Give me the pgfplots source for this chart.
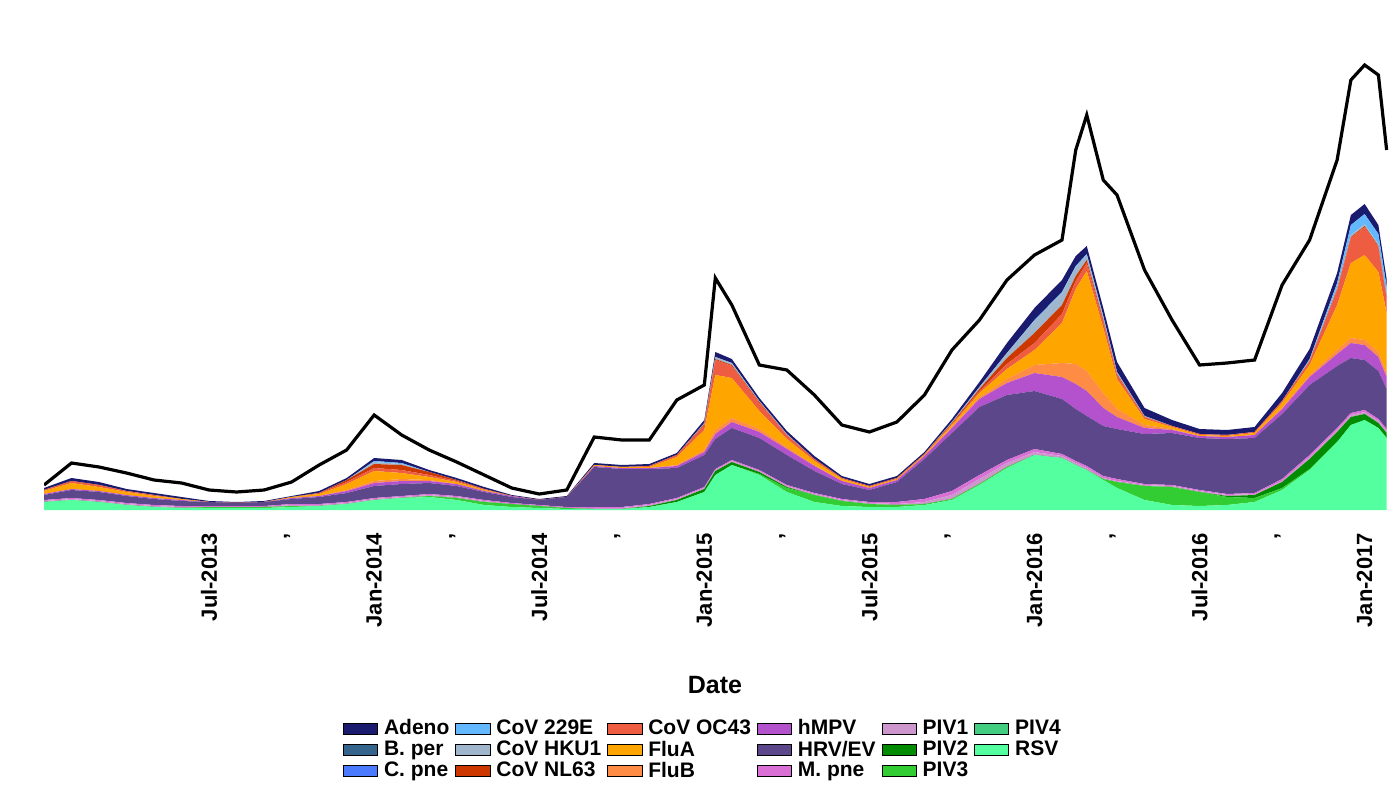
\documentclass[border=0pt]{standalone}
\usepackage{pgfplots}
\usepackage{pgfplotstable}
\pgfplotsset{compat=1.18}
\usepackage{fontspec}
\setmainfont{Liberation Sans}
\definecolor{cAdeno}{HTML}{1A1A6E}
\definecolor{cBper}{HTML}{35648C}
\definecolor{cCpne}{HTML}{4A7BFF}
\definecolor{cE}{HTML}{63B8FF}
\definecolor{cHKU}{HTML}{9FB6CD}
\definecolor{cNL}{HTML}{CD3700}
\definecolor{cOC}{HTML}{EE5C42}
\definecolor{cFluA}{HTML}{FFA500}
\definecolor{cFluB}{HTML}{FF8C45}
\definecolor{chMPV}{HTML}{B452CD}
\definecolor{cHRV}{HTML}{5D478B}
\definecolor{cMpne}{HTML}{DA70D6}
\definecolor{cPIVa}{HTML}{CD96CD}
\definecolor{cPIVb}{HTML}{008B00}
\definecolor{cPIVc}{HTML}{32CD32}
\definecolor{cPIVd}{HTML}{43CD80}
\definecolor{cRSV}{HTML}{54FF9F}
\pgfplotstableread{
x RSV PIVc PIVb PIVa Mpne HRV hMPV FluB FluA OC NL HKU E Adeno Tot
0 8 0 0 1 1 5 1 0 3 1 0 0 0 2 25
1 10 0 0 1 1 8 1 0 6 2 0 0 0 3 47
2 8 0 0 1 1 8 1 0 4 2 0 0 0 3 43
3 5 0 0 1 1 7 1 0 3 1 0 0 0 2 37
4 3 0 0 1 1 6 1 0 2 1 0 0 0 2 30
5 2 0 0 1 1 5 1 0 1 0 0 0 0 2 27
6 2 1 0 0 1 4 0 0 0 0 0 0 0 1 20
7 2 1 0 0 1 3 0 0 0 0 0 0 0 1 18
8 2 1 0 0 1 4 0 0 0 0 0 0 0 1 20
9 3 1 0 1 1 5 1 0 1 0 0 0 0 1 28
10 4 0 0 1 1 7 1 0 2 1 0 0 0 2 45
11 6 0 0 1 1 9 2 1 6 2 2 0 0 2 60
12 10 0 0 1 1 12 3 2 10 3 4 2 1 3 95
13 12 0 0 1 1 12 3 2 6 3 5 1 1 3 75
14 13 1 0 1 1 11 2 1 3 2 3 0 0 2 60
15 10 2 0 1 1 10 2 0 2 1 1 0 0 2 48
16 5 3 0 1 1 8 1 0 1 1 0 0 0 2 35
17 3 3 0 0 1 6 1 0 0 0 0 0 0 1 22
18 2 2 0 0 1 5 0 0 0 0 0 0 0 1 16
19 1 1 0 0 1 10 0 0 0 0 0 0 0 1 20
20 1 0 0 1 1 40 1 0 1 0 0 0 0 2 73
21 1 0 0 1 1 38 1 0 1 0 0 0 0 2 70
22 3 0 1 1 1 35 1 0 1 1 0 0 0 2 70
23 8 0 2 1 1 30 2 1 8 2 0 0 0 2 110
24 18 0 3 1 1 32 3 2 20 5 1 1 0 3 125
24.4 35 0 4 1 1 30 5 4 55 15 1 2 0 5 232
25 45 0 3 1 1 32 6 4 40 12 1 2 0 4 205
26 35 1 2 1 1 32 6 3 18 8 1 1 0 3 145
27 18 4 1 1 1 30 6 2 8 4 0 1 0 3 140
28 8 7 0 1 1 22 5 1 4 2 0 0 0 3 115
29 4 5 0 1 1 15 3 0 2 1 0 0 0 2 85
30 3 3 0 1 1 12 2 0 1 1 0 0 0 2 78
31 3 2 0 1 2 20 2 0 1 1 0 0 0 2 88
32 5 1 0 2 3 40 3 0 1 1 0 0 0 2 115
33 10 1 0 4 4 58 5 1 2 1 1 1 0 3 160
34 25 1 0 5 4 68 8 2 4 2 2 2 0 5 190
35 42 1 0 4 3 65 12 4 10 5 6 5 0 10 230
36 55 0 0 3 3 58 18 8 15 7 10 12 1 12 255
37 52 0 0 2 2 55 22 14 40 9 9 12 1 12 270
37.5 45 0 0 2 2 52 25 20 75 8 5 9 1 10 360
37.9 40 0 0 2 2 50 25 20 100 8 3 5 1 8 395
38.5 30 1 0 1 2 50 18 15 65 6 2 3 1 8 330
39 22 6 0 1 2 50 12 8 30 4 1 2 0 10 315
40 10 14 0 1 1 50 6 3 6 2 0 1 0 8 240
41 5 18 0 1 1 52 3 1 2 1 0 0 0 6 190
42 4 14 0 1 1 52 2 0 1 1 0 0 0 5 145
43 5 8 1 1 1 55 2 0 1 1 0 0 0 5 147
44 8 4 3 1 1 55 3 0 2 1 0 0 0 5 150
45 20 2 6 1 2 65 5 1 5 2 0 0 0 8 225
46 40 1 10 2 2 70 8 2 10 4 0 1 1 10 270
47 68 0 10 2 2 62 12 4 45 15 1 2 4 10 350
47.5 85 0 8 2 2 55 15 5 75 25 1 2 10 10 430
48 90 0 6 2 2 50 15 5 85 28 1 2 10 10 445
48.5 82 0 5 2 2 48 14 5 80 25 1 2 10 9 435
48.8 72 0 5 2 2 40 12 4 60 15 1 2 8 8 360
}\data
\begin{document}
\begin{tikzpicture}
\useasboundingbox (0,0) rectangle (700pt,400pt);
\begin{axis}[at={(22pt,145pt)}, anchor=south west, scale only axis,
  width=672pt, height=225pt, xmin=0, xmax=48.85, ymin=0, ymax=450,
  stack plots=y, axis line style={draw=none}, major tick length=0pt,
  ytick=\empty,
  xtick={6,9,...,48},
  xticklabels={Jul-2013,{'},Jan-2014,{'},Jul-2014,{'},Jan-2015,{'},Jul-2015,{'},Jan-2016,{'},Jul-2016,{'},Jan-2017},
  xticklabel style={rotate=90, anchor=east, font=\fontsize{11}{13}\selectfont\bfseries},
  xticklabel shift=8pt,
  legend columns=6,
  legend style={at={(0.491,-0.456)}, anchor=north, draw=none, font=\fontsize{10.5}{11}\selectfont\bfseries, row sep=-2.5pt, column sep=1pt, inner sep=0pt},
  legend cell align=left,
  area legend,
]
\pgfplotsinvokeforeach{RSV/cRSV,PIVc/cPIVc,PIVb/cPIVb,PIVa/cPIVa,Mpne/cMpne,HRV/cHRV,hMPV/chMPV,FluB/cFluB,FluA/cFluA,OC/cOC,NL/cNL,HKU/cHKU,E/cE,Adeno/cAdeno}{}
\addplot[fill=cRSV, draw=none, forget plot] table[x=x,y=RSV]{\data} \closedcycle;
\addplot[fill=cPIVc, draw=none, forget plot] table[x=x,y=PIVc]{\data} \closedcycle;
\addplot[fill=cPIVb, draw=none, forget plot] table[x=x,y=PIVb]{\data} \closedcycle;
\addplot[fill=cPIVa, draw=none, forget plot] table[x=x,y=PIVa]{\data} \closedcycle;
\addplot[fill=cMpne, draw=none, forget plot] table[x=x,y=Mpne]{\data} \closedcycle;
\addplot[fill=cHRV, draw=none, forget plot] table[x=x,y=HRV]{\data} \closedcycle;
\addplot[fill=chMPV, draw=none, forget plot] table[x=x,y=hMPV]{\data} \closedcycle;
\addplot[fill=cFluB, draw=none, forget plot] table[x=x,y=FluB]{\data} \closedcycle;
\addplot[fill=cFluA, draw=none, forget plot] table[x=x,y=FluA]{\data} \closedcycle;
\addplot[fill=cOC, draw=none, forget plot] table[x=x,y=OC]{\data} \closedcycle;
\addplot[fill=cNL, draw=none, forget plot] table[x=x,y=NL]{\data} \closedcycle;
\addplot[fill=cHKU, draw=none, forget plot] table[x=x,y=HKU]{\data} \closedcycle;
\addplot[fill=cE, draw=none, forget plot] table[x=x,y=E]{\data} \closedcycle;
\addplot[fill=cAdeno, draw=none, forget plot] table[x=x,y=Adeno]{\data} \closedcycle;
\addlegendimage{fill=cAdeno, draw=none, area legend}\addlegendentry{Adeno}
\addlegendimage{fill=cE, draw=none, area legend}\addlegendentry{CoV 229E}
\addlegendimage{fill=cOC, draw=none, area legend}\addlegendentry{CoV OC43}
\addlegendimage{fill=chMPV, draw=none, area legend}\addlegendentry{hMPV}
\addlegendimage{fill=cPIVa, draw=none, area legend}\addlegendentry{PIV1}
\addlegendimage{fill=cPIVd, draw=none, area legend}\addlegendentry{PIV4}
\addlegendimage{fill=cBper, draw=none, area legend}\addlegendentry{B. per}
\addlegendimage{fill=cHKU, draw=none, area legend}\addlegendentry{CoV HKU1}
\addlegendimage{fill=cFluA, draw=none, area legend}\addlegendentry{FluA}
\addlegendimage{fill=cHRV, draw=none, area legend}\addlegendentry{HRV/EV}
\addlegendimage{fill=cPIVb, draw=none, area legend}\addlegendentry{PIV2}
\addlegendimage{fill=cRSV, draw=none, area legend}\addlegendentry{RSV}
\addlegendimage{fill=cCpne, draw=none, area legend}\addlegendentry{C. pne}
\addlegendimage{fill=cNL, draw=none, area legend}\addlegendentry{CoV NL63}
\addlegendimage{fill=cFluB, draw=none, area legend}\addlegendentry{FluB}
\addlegendimage{fill=cMpne, draw=none, area legend}\addlegendentry{M. pne}
\addlegendimage{fill=cPIVc, draw=none, area legend}\addlegendentry{PIV3}
\end{axis}
\begin{axis}[at={(22pt,145pt)}, anchor=south west, scale only axis,
  width=672pt, height=225pt, xmin=0, xmax=48.85, ymin=0, ymax=450, hide axis]
\addplot[black, line width=1.6pt] table[x=x,y=Tot]{\data};
\end{axis}
\node[font=\fontsize{12.5}{14}\selectfont\bfseries] at (357.5pt,57.5pt) {Date};
\end{tikzpicture}
\end{document}
